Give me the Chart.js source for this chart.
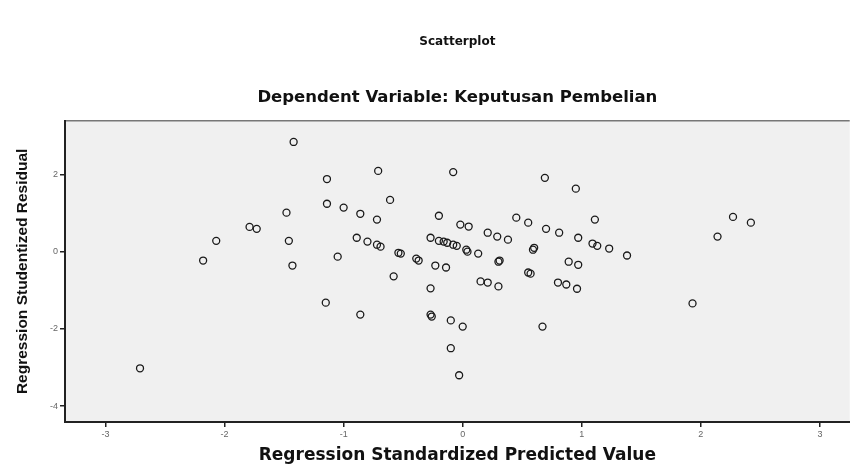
<!DOCTYPE html>
<html>
<head>
<meta charset="utf-8">
<script src="https://cdn.jsdelivr.net/npm/chart.js@4/dist/chart.umd.min.js"></script>
<style>
  html, body { margin: 0; padding: 0; background: #fff; overflow: hidden; }
  #wrap { width: 850px; height: 470px; overflow: hidden; }
</style>
</head>
<body>
<div id="wrap"><canvas id="chart" width="855" height="470"></canvas></div>
<script>
// x = regression standardized predicted value, y = studentized residual
var predicted = [
  -1.42, -1.14, -0.71, -0.08, 0.69, 0.95, -0.61, -1.48, -1.14, -1.00,
  -0.86, -0.72, -0.20, 0.45, 0.55, 0.70, 0.81, 1.11, -0.02, 0.05,
  0.21, 0.29, 0.38, 0.97, 1.09, 1.13, 1.23, 1.38, 0.60, -1.79,
  -1.73, -2.07, -1.46, -0.89, -0.80, -0.72, -0.69, -0.54, -0.52, -0.39,
  -0.37, -0.27, -0.20, -0.13, -0.05, -0.16, -0.08, 0.03, 0.13, -2.18,
  -1.43, -1.05, -0.23, -0.14, 0.04, 0.30, 0.31, 0.59, 0.89, 0.97,
  0.55, 0.57, 0.15, 0.21, 0.30, 0.80, 0.87, 0.96, -0.58, -0.27,
  -1.15, -0.86, -0.27, -0.26, -0.10, 0.00, 0.67, -0.10, -0.03, -2.71,
  1.93, 2.27, 2.42, 2.14
];
var residual = [
  2.84, 1.88, 2.09, 2.06, 1.91, 1.63, 1.34, 1.01, 1.24, 1.14,
  0.98, 0.83, 0.93, 0.88, 0.75, 0.59, 0.49, 0.83, 0.70, 0.65,
  0.49, 0.39, 0.31, 0.36, 0.21, 0.15, 0.08, -0.10, 0.10, 0.64,
  0.59, 0.28, 0.28, 0.36, 0.26, 0.18, 0.13, -0.03, -0.05, -0.18,
  -0.23, 0.36, 0.28, 0.23, 0.15, 0.26, 0.18, 0.05, -0.05, -0.23,
  -0.36, -0.13, -0.36, -0.41, 0.00, -0.26, -0.23, 0.05, -0.26, -0.34,
  -0.54, -0.57, -0.77, -0.80, -0.90, -0.80, -0.85, -0.96, -0.64, -0.95,
  -1.32, -1.63, -1.63, -1.68, -1.78, -1.94, -1.94, -2.50, -3.20, -3.02,
  -1.34, 0.90, 0.75, 0.39
];
var xTicks = [-3, -2, -1, 0, 1, 2, 3];
var yTicks = [-4, -2, 0, 2];

var points = predicted.map(function(x, i) {
  return { x: x, y: residual[i] };
});

// grey plot background plus the thin top frame line
var plotBack = {
  id: 'plotBack',
  beforeDraw: function(chart) {
    var a = chart.chartArea;
    var c = chart.ctx;
    c.save();
    c.fillStyle = '#f0f0f0';
    c.fillRect(a.left, a.top, a.right - a.left, a.bottom - a.top);
    c.strokeStyle = '#777';
    c.lineWidth = 1.5;
    c.beginPath();
    c.moveTo(a.left, a.top);
    c.lineTo(a.right, a.top);
    c.stroke();
    c.restore();
  }
};

var ctx = document.getElementById('chart').getContext('2d');
var mychart = new Chart(ctx, {
  type: 'scatter',
  data: {
    datasets: [{
      label: 'Residual',
      data: points,
      pointStyle: 'circle',
      pointRadius: 3.5,
      pointBorderWidth: 1.3,
      borderColor: '#1a1a1a',
      backgroundColor: 'rgba(0,0,0,0)'
    }]
  },
  options: {
    responsive: false,
    animation: false,
    layout: { padding: 0 },
    plugins: {
      legend: { display: false },
      tooltip: { enabled: false },
      title: {
        display: true,
        text: 'Scatterplot',
        fullSize: false,
        color: '#111',
        font: { family: 'DejaVu Sans', size: 12, weight: 'bold' },
        padding: { top: 35, bottom: 0 }
      },
      subtitle: {
        display: true,
        text: 'Dependent Variable: Keputusan Pembelian',
        fullSize: false,
        color: '#111',
        font: { family: 'DejaVu Sans', size: 16.5, weight: 'bold' },
        padding: { top: 38.5, bottom: 13 }
      }
    },
    scales: {
      x: {
        type: 'linear',
        min: -3.34,
        max: 3.25,
        afterFit: function(s) { s.height = 48; },
        afterBuildTicks: function(s) {
          s.ticks = xTicks.map(function(v) { return { value: v }; });
        },
        ticks: {
          color: '#666',
          font: { family: 'Liberation Sans', size: 9 },
          padding: 2
        },
        grid: { drawOnChartArea: false, drawTicks: true, tickLength: 5, color: '#222', lineWidth: 1.5 },
        border: { display: true, color: '#222', width: 2 },
        title: {
          display: true,
          text: 'Regression Standardized Predicted Value',
          color: '#111',
          font: { family: 'DejaVu Sans', size: 17, weight: 'bold' },
          padding: { top: 0, bottom: 4 }
        }
      },
      y: {
        type: 'linear',
        min: -4.41,
        max: 3.39,
        afterFit: function(s) { s.width = 65; },
        afterBuildTicks: function(s) {
          s.ticks = yTicks.map(function(v) { return { value: v }; });
        },
        ticks: {
          color: '#666',
          font: { family: 'Liberation Sans', size: 9 },
          padding: 2
        },
        grid: { drawOnChartArea: false, drawTicks: true, tickLength: 5, color: '#222', lineWidth: 1.5 },
        border: { display: true, color: '#222', width: 2 },
        title: {
          display: true,
          text: 'Regression Studentized Residual',
          color: '#111',
          font: { family: 'Liberation Sans', size: 15.5, weight: 'bold' },
          padding: { top: 13, bottom: 0 }
        }
      }
    }
  },
  plugins: [plotBack]
});
</script>
</body>
</html>
